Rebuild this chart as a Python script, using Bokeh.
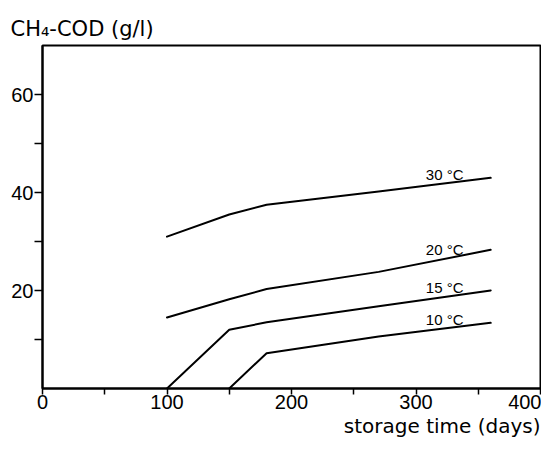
import numpy as np
from bokeh.plotting import figure
from bokeh.models import Range1d, FixedTicker, Title, ColumnDataSource
from bokeh.core.properties import value
from bokeh.embed import file_html
from bokeh.resources import INLINE

# ---- data ----
days_30 = [100, 150, 180, 270, 360]
cod_30 = [31.0, 35.5, 37.5, 40.2, 43.0]

days_20 = [100, 150, 180, 270, 360]
cod_20 = [14.5, 18.2, 20.3, 23.8, 28.3]

days_15 = [100, 150, 180, 270, 360]
cod_15 = [0.0, 12.0, 13.5, 16.8, 20.0]

days_10 = [150, 180, 270, 360]
cod_10 = [0.0, 7.2, 10.6, 13.4]

series_names = ["30 °C", "20 °C", "15 °C", "10 °C"]
series_days = [days_30, days_20, days_15, days_10]
series_cod = [cod_30, cod_20, cod_15, cod_10]

x_major = [0, 100, 200, 300, 400]
x_minor = [50, 150, 250, 350]
y_major = [20, 40, 60]
y_minor = [10, 30, 50]

y_title = "CH\u2084-COD (g/l)"
x_title = "storage time (days)"

TICK_FONT = "Liberation Sans"
TEXT_FONT = "DejaVu Sans"

p = figure(width=541, height=438, output_backend="svg", toolbar_location=None,
           x_range=Range1d(0, 400), y_range=Range1d(0, 70),
           min_border_left=42, min_border_right=1, min_border_top=45,
           min_border_bottom=50)
p.title.visible = False
p.grid.visible = False
p.background_fill_color = "white"
p.border_fill_color = "white"
p.outline_line_color = "black"
p.outline_line_width = 2
p.outline_line_alpha = 1.0

for ax in (p.xaxis[0], p.yaxis[0]):
    ax.axis_line_width = 2
    ax.axis_line_color = "black"
    ax.major_tick_line_width = 1.5
    ax.minor_tick_line_width = 1.5
    ax.major_tick_in = 0
    ax.minor_tick_in = 0
    ax.major_label_text_font = TICK_FONT
    ax.major_label_text_font_size = "20px"
    ax.major_label_text_color = "black"

p.xaxis.ticker = FixedTicker(ticks=x_major, minor_ticks=x_minor)
p.xaxis.major_tick_out = 6
p.xaxis.minor_tick_out = 6
p.xaxis.major_label_standoff = 0

p.yaxis.ticker = FixedTicker(ticks=y_major, minor_ticks=y_minor)
p.yaxis.major_tick_out = 8
p.yaxis.minor_tick_out = 8
p.yaxis.major_label_standoff = 1

# curves
for d, c in zip(series_days, series_cod):
    p.line(d, c, line_color="black", line_width=2, line_join="round", line_cap="round")

# curve labels, placed just above each curve
label_day = 323
lab_src = ColumnDataSource(dict(
    x=[label_day] * len(series_names),
    y=[float(np.interp(label_day, d, c)) for d, c in zip(series_days, series_cod)],
    t=series_names,
))
p.text(x="x", y="y", text="t", source=lab_src, text_align="center",
       text_baseline="alphabetic", y_offset=-9, text_font=value(TICK_FONT),
       text_font_size="15px", text_color="black")

# axis titles as Titles (not clipped by the frame)
ytitle = Title(text=y_title, align="left", offset=-32, standoff=10,
               text_font=TEXT_FONT, text_font_size="21px",
               text_font_style="normal", text_color="black")
p.add_layout(ytitle, "above")

xtitle = Title(text=x_title, align="right", offset=0, standoff=0,
               text_font=TEXT_FONT, text_font_size="20px",
               text_font_style="normal", text_color="black")
p.add_layout(xtitle, "below")

open("out.html", "w").write(file_html(p, INLINE))
